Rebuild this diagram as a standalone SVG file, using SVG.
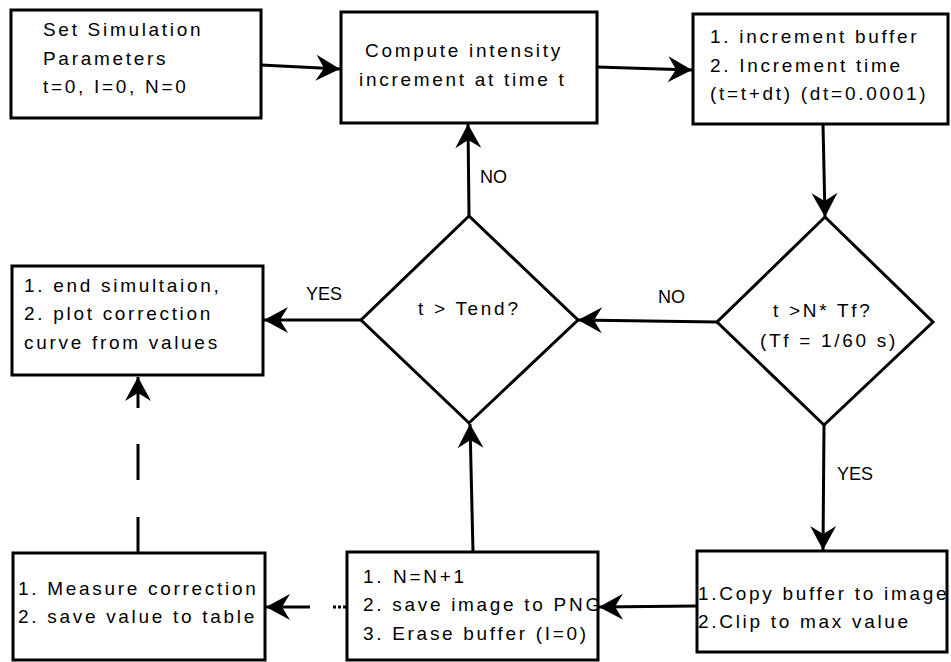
<svg xmlns="http://www.w3.org/2000/svg" width="951" height="662" viewBox="0 0 951 662">
  <defs>
    <marker id="arrow" markerUnits="userSpaceOnUse" markerWidth="30" markerHeight="30" viewBox="-26 -15 30 30" refX="0" refY="0" orient="auto">
      <path d="M0,0 L-24,-13 L-16,0 L-24,13 Z" fill="#000"/>
    </marker>
    <style>
      .box { fill: #fff; stroke: #000; stroke-width: 3; }
      .edge { fill: none; stroke: #000; stroke-width: 3; }
      .arr { marker-end: url(#arrow); }
      text { font-family: "Liberation Sans", Arial, sans-serif; font-size: 19px; letter-spacing: 2.7px; fill: #000; }
      .lbl { letter-spacing: 0px; font-size: 18px; }
    </style>
  </defs>

  <rect width="951" height="662" fill="#fff"/>

  <g id="connectors">
    <path class="edge arr" d="M261,65 L340,69"/>
    <path class="edge arr" d="M597,67 L692,70"/>
    <path class="edge arr" d="M823,124 L825,217"/>
    <path class="edge arr" d="M717,322 L578,320"/>
    <path class="edge arr" d="M469,216 L468,124"/>
    <path class="edge arr" d="M361,320 L264,320"/>
    <path class="edge arr" d="M824,425 L823,550"/>
    <path class="edge arr" d="M697,606 L599,607"/>
    <path class="edge arr" d="M473,552 L470,424"/>
    <path class="edge arr" d="M310,607 L266,607"/>
    <path class="edge" d="M346,607 L331,607" stroke-dasharray="3,2"/>
    <path class="edge" d="M138,553 L138,444" stroke-dasharray="36,37"/>
    <path class="edge arr" d="M138,408 L138,377"/>
    <text class="lbl" x="480" y="183">NO</text>
    <text class="lbl" x="306" y="300">YES</text>
    <text class="lbl" x="658" y="303">NO</text>
    <text class="lbl" x="837" y="480">YES</text>
  </g>

  <g id="set-params">
    <rect class="box" x="11" y="10" width="250" height="108"/>
    <text x="43" y="36">Set Simulation</text>
    <text x="43" y="64.5">Parameters</text>
    <text x="43" y="93">t=0, I=0, N=0</text>
  </g>

  <g id="compute-intensity">
    <rect class="box" x="341" y="12" width="256" height="111"/>
    <text x="365" y="57">Compute intensity</text>
    <text x="359" y="86">increment at time t</text>
  </g>

  <g id="increment">
    <rect class="box" x="693" y="14" width="255" height="110"/>
    <text x="710" y="43">1. increment buffer</text>
    <text x="710" y="72">2. Increment time</text>
    <text x="710" y="100">(t=t+dt) (dt=0.0001)</text>
  </g>

  <g id="frame-check">
    <polygon class="box" points="825,217 933,322 824,425 717,322"/>
    <text x="773" y="317">t &gt;N* Tf?</text>
    <text x="760" y="347">(Tf = 1/60 s)</text>
  </g>

  <g id="end-check">
    <polygon class="box" points="469,216 578,320 469,423 361,320"/>
    <text x="418" y="315">t &gt; Tend?</text>
  </g>

  <g id="end-simulation">
    <rect class="box" x="12" y="266" width="251" height="109"/>
    <text x="24" y="292">1. end simultaion,</text>
    <text x="24" y="320">2. plot correction</text>
    <text x="24" y="349">curve from values</text>
  </g>

  <g id="measure">
    <rect class="box" x="13" y="553" width="252" height="107"/>
    <text x="18" y="595">1. Measure correction</text>
    <text x="18" y="623">2. save value to table</text>
  </g>

  <g id="save-frame">
    <rect class="box" x="347" y="552" width="251" height="108"/>
    <text x="363" y="583">1. <tspan x="393">N=N+1</tspan></text>
    <text x="363" y="611">2. save image to PNG</text>
    <text x="363" y="640">3. Erase buffer (I=0)</text>
  </g>

  <g id="copy-buffer">
    <rect class="box" x="697" y="551" width="250" height="101"/>
    <text x="698" y="600">1.Copy buffer to image</text>
    <text x="698" y="628">2.Clip to max value</text>
  </g>
</svg>
